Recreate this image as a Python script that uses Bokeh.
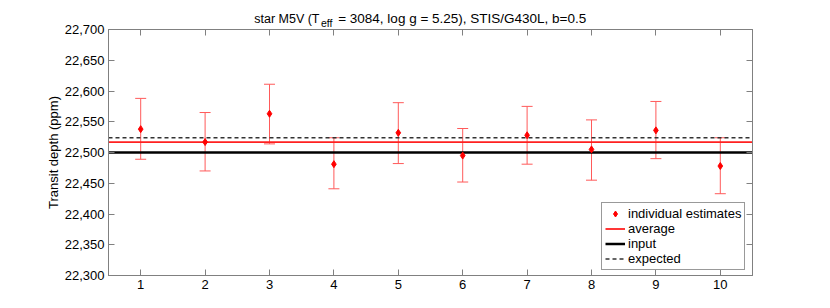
from bokeh.plotting import figure
from bokeh.layouts import column
from bokeh.models import (ColumnDataSource, Whisker, TeeHead, Label, LinearAxis,
                          FixedTicker, NumeralTickFormatter, Legend, LegendItem, Range1d,
                          CustomJSTickFormatter)
from bokeh.embed import file_html
from bokeh.resources import INLINE

# ---- data ----
realization = [1, 2, 3, 4, 5, 6, 7, 8, 9, 10]
estimate = [22538, 22517, 22563, 22481, 22532, 22495, 22528, 22505, 22536, 22478]
err_upper = [22588, 22565, 22611, 22524, 22581, 22539, 22575, 22553, 22583, 22524]
err_lower = [22489, 22470, 22514, 22441, 22482, 22452, 22481, 22455, 22490, 22433]
average_depth = 22517
input_depth = 22500
expected_depth = 22524
x_min, x_max = 0.5, 10.5
y_min, y_max = 22300, 22700
y_ticks = [22300, 22350, 22400, 22450, 22500, 22550, 22600, 22650, 22700]
x_ticks = realization
title_part1 = "star M5V (T"
title_sub = "eff"
title_part2 = "= 3084, log g = 5.25), STIS/G430L, b=0.5"

FONT = "Liberation Sans"
AX = "#808080"
W = 830
TITLE_H = 30
OVERLAP = 10
LEFT = 108
RIGHT = 78
FS = "13px"

# ---- title strip ----
t = figure(width=W, height=TITLE_H, output_backend="svg", toolbar_location=None,
           x_range=Range1d(0, 1), y_range=Range1d(0, 1),
           min_border_left=LEFT, min_border_right=RIGHT, min_border_top=0,
           min_border_bottom=0, x_axis_type=None, y_axis_type=None, title=None,
           margin=(0, 0, -OVERLAP, 0), background_fill_alpha=0, border_fill_alpha=0)
t.grid.visible = False
t.outline_line_color = None
t.add_layout(Label(x=211, y=12, x_units="screen", y_units="screen", text=title_part1,
                   text_align="right", text_baseline="alphabetic", text_font=FONT,
                   text_font_size="12.5px", text_color="black"))
t.add_layout(Label(x=212.5, y=8, x_units="screen", y_units="screen", text=title_sub,
                   text_align="left", text_baseline="alphabetic", text_font=FONT,
                   text_font_size="10.5px", text_color="black"))
t.add_layout(Label(x=229.7, y=12, x_units="screen", y_units="screen", text=title_part2,
                   text_align="left", text_baseline="alphabetic", text_font=FONT,
                   text_font_size="13.5px", text_color="black"))

# ---- main plot ----
main_top = TITLE_H - OVERLAP
p = figure(width=W, height=308 - main_top, output_backend="svg", toolbar_location=None,
           x_range=Range1d(x_min, x_max), y_range=Range1d(y_min, y_max),
           min_border_left=LEFT, min_border_right=RIGHT, min_border_top=29 - main_top,
           min_border_bottom=33, title=None, background_fill_color="white",
           border_fill_alpha=0)
p.grid.visible = False
p.outline_line_color = AX

for ax in (p.xaxis[0], p.yaxis[0]):
    ax.axis_line_color = AX
    ax.major_tick_line_color = AX
    ax.major_tick_in = 6
    ax.major_tick_out = 0
    ax.minor_tick_line_color = None
    ax.major_label_text_font = FONT
    ax.major_label_text_font_size = FS
    ax.major_label_text_color = "black"
    ax.major_label_standoff = 4

p.xaxis.ticker = FixedTicker(ticks=x_ticks)
p.yaxis.ticker = FixedTicker(ticks=y_ticks)
p.yaxis.formatter = NumeralTickFormatter(format="0,0")
p.yaxis.axis_label = "Transit depth (ppm)"
p.yaxis.axis_label_text_font = FONT
p.yaxis.axis_label_text_font_size = FS
p.yaxis.axis_label_text_font_style = "normal"
p.yaxis.axis_label_text_color = "black"
p.yaxis.axis_label_standoff = 1

blank = CustomJSTickFormatter(code="return ''")
top = LinearAxis(ticker=FixedTicker(ticks=x_ticks), formatter=blank,
                 major_label_standoff=0,
                 axis_line_color=AX, major_tick_line_color=AX, major_tick_in=6,
                 major_tick_out=0, minor_tick_line_color=None)
right = LinearAxis(ticker=FixedTicker(ticks=y_ticks), formatter=blank,
                   major_label_standoff=0,
                   axis_line_color=AX, major_tick_line_color=AX, major_tick_in=6,
                   major_tick_out=0, minor_tick_line_color=None)
p.add_layout(top, "above")
p.add_layout(right, "right")

src = ColumnDataSource(dict(x=realization, y=estimate, upper=err_upper, lower=err_lower))

ERR = "#ff5a5a"
w = Whisker(source=src, base="x", upper="upper", lower="lower",
            line_color=ERR, line_width=1,
            upper_head=TeeHead(size=11, line_color=ERR, line_width=1),
            lower_head=TeeHead(size=11, line_color=ERR, line_width=1))
p.add_layout(w)

r_in = p.line([x_min, x_max], [input_depth, input_depth], line_color="black", line_width=2.5)
r_avg = p.line([x_min, x_max], [average_depth, average_depth], line_color="#ff2020", line_width=1.8)
r_exp = p.line([x_min, x_max], [expected_depth, expected_depth], line_color="#333333",
               line_width=1.6, line_dash="4 3")
r_pts = p.scatter("x", "y", source=src, marker="diamond", size=7, fill_color="red",
                  line_color="red", line_width=1)

legend = Legend(items=[
    LegendItem(label="individual estimates", renderers=[r_pts]),
    LegendItem(label="average", renderers=[r_avg]),
    LegendItem(label="input", renderers=[r_in]),
    LegendItem(label="expected", renderers=[r_exp]),
], location=(493, 5), margin=0, padding=3, spacing=0,
    glyph_width=20, glyph_height=15, label_height=15, label_standoff=3,
    label_text_font=FONT, label_text_font_size=FS, label_text_color="black",
    border_line_color="#333333", border_line_width=1, background_fill_color="white",
    background_fill_alpha=1)
p.add_layout(legend, "center")

layout = column(t, p, spacing=0)
open("out.html", "w").write(file_html(layout, INLINE))
